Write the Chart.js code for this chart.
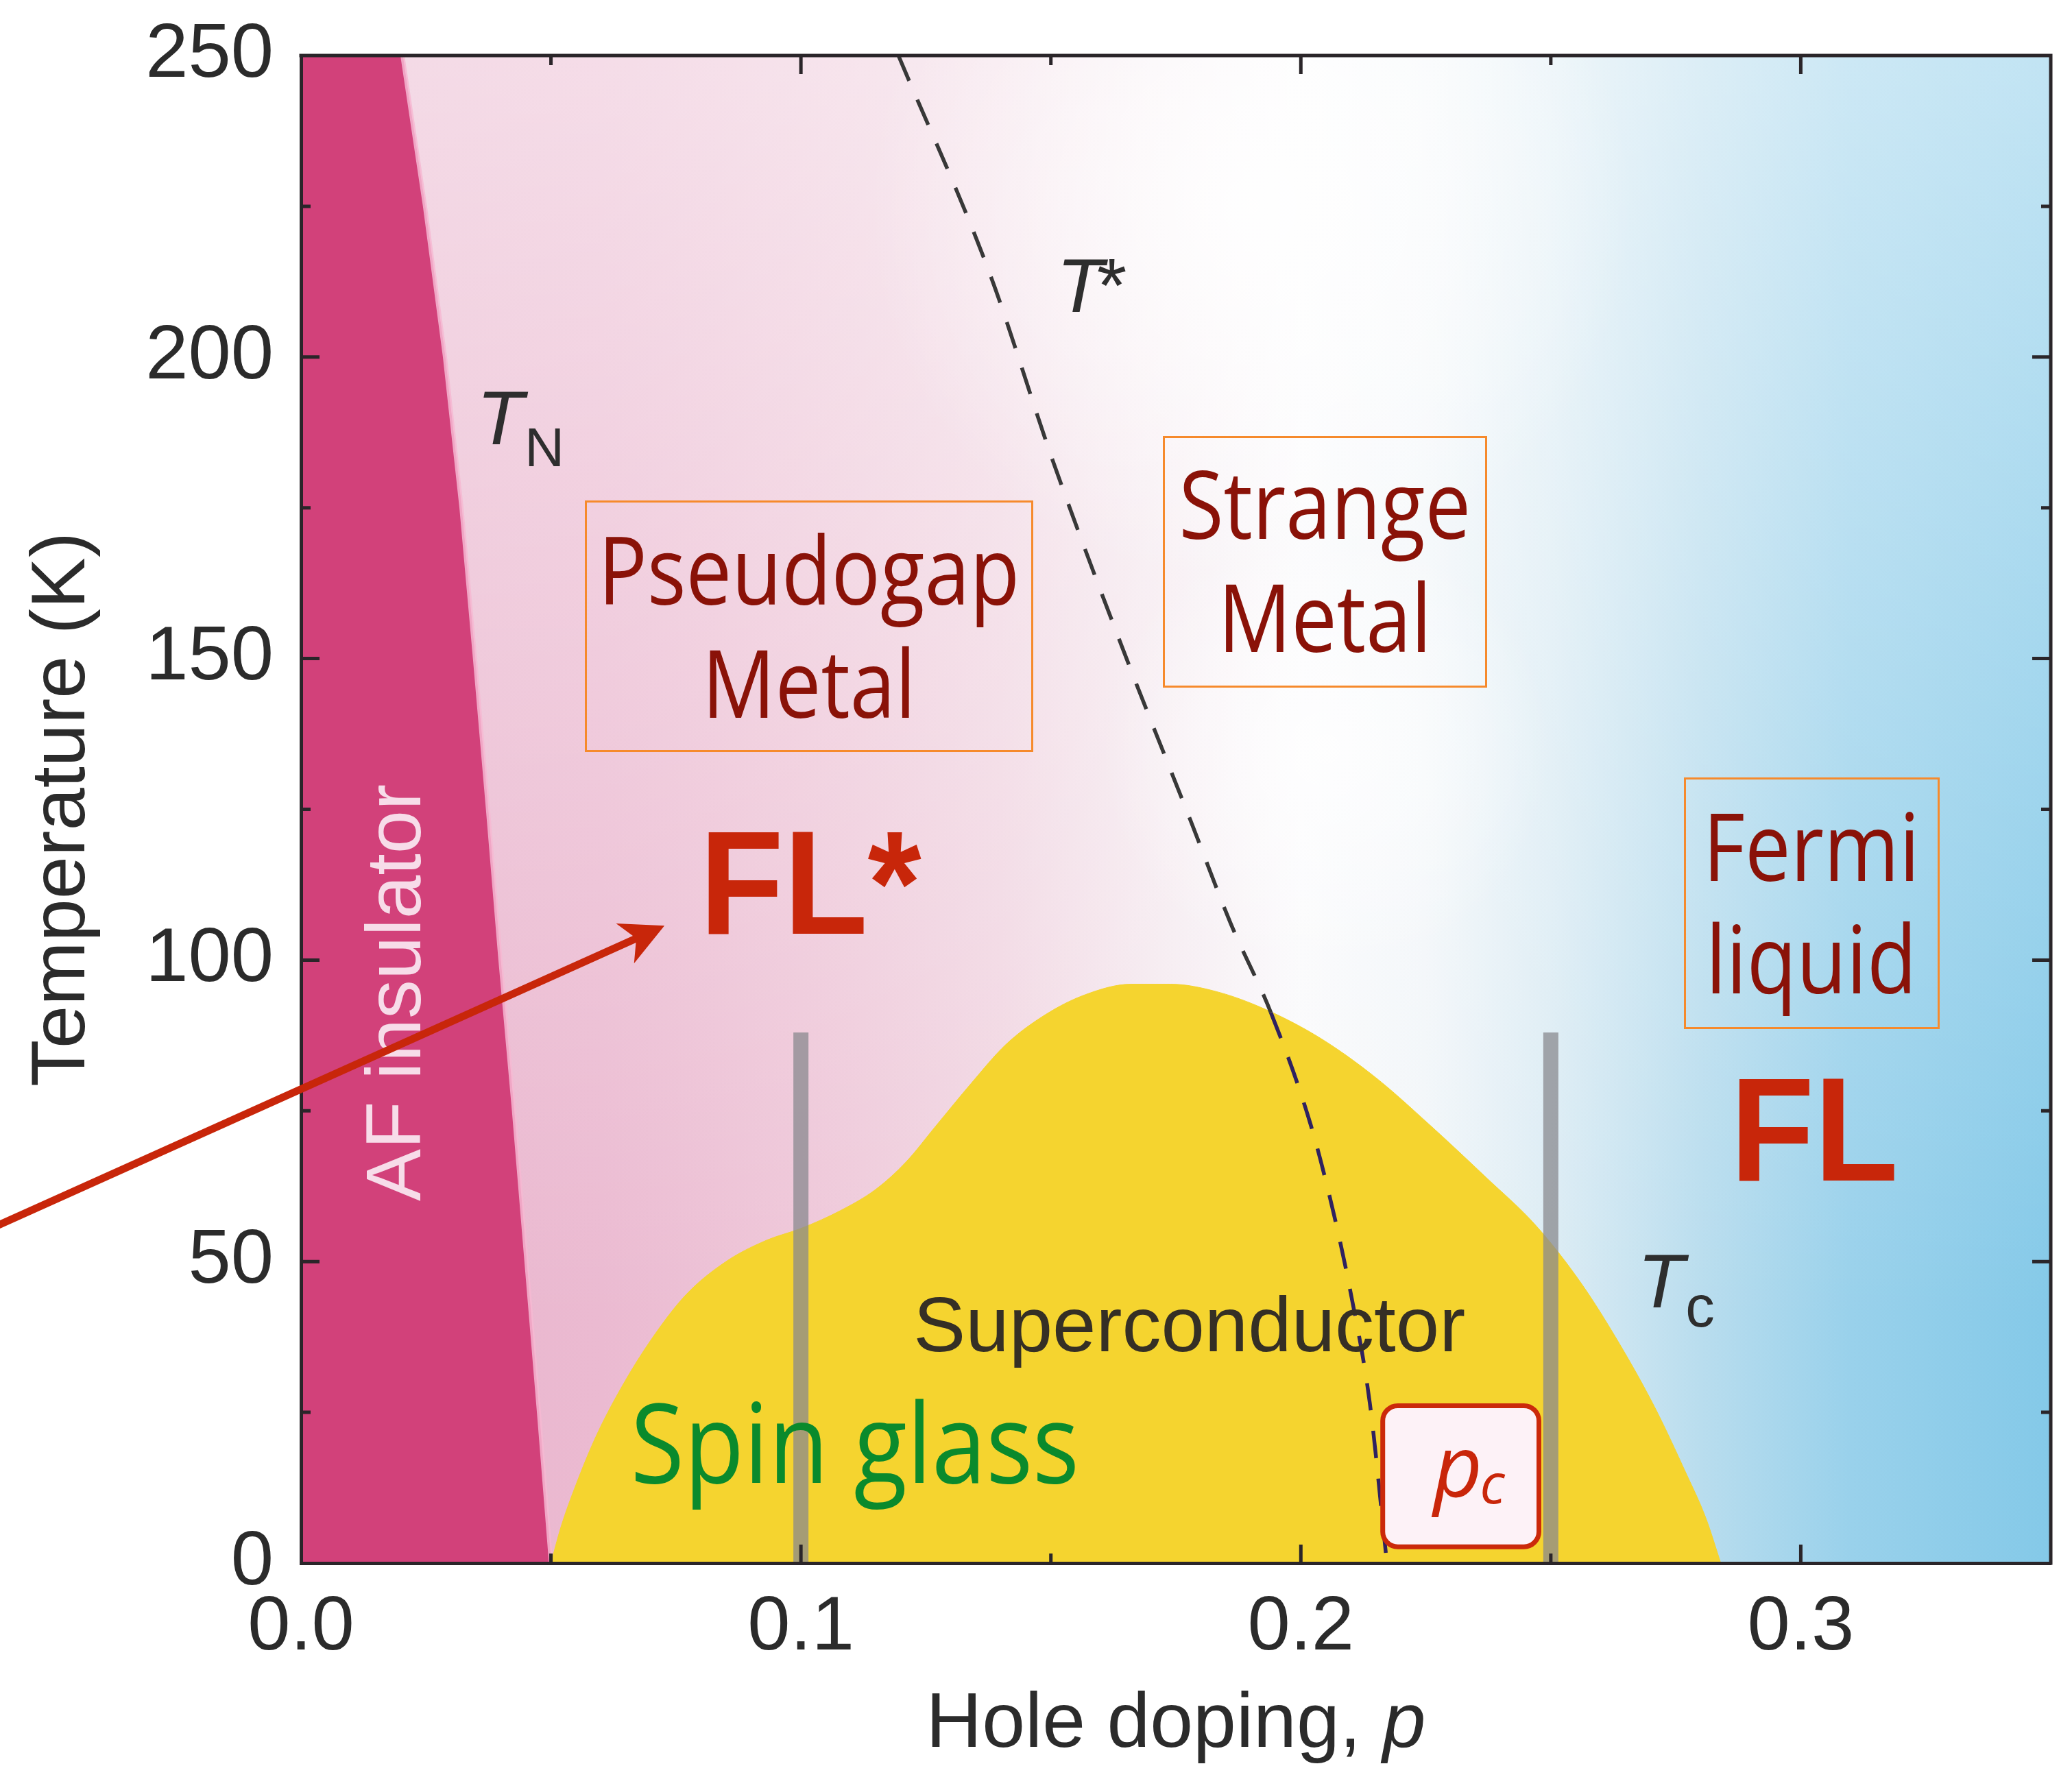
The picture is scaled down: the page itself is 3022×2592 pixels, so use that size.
<!DOCTYPE html>
<html>
<head>
<meta charset="utf-8">
<title>Cuprate phase diagram</title>
<script src="https://cdn.jsdelivr.net/npm/chart.js@4.4.1/dist/chart.umd.min.js"></script>
<style>
  html, body { margin: 0; padding: 0; background: #ffffff; }
  canvas { display: block; }
</style>
</head>
<body>
<canvas id="phase" width="3022" height="2592"></canvas>
<script>
// Néel line T_N(p): edge of the antiferromagnetic insulator
const tnDoping = [0.0203, 0.0248, 0.0288, 0.0321, 0.0348, 0.0374, 0.0399, 0.0426, 0.0451, 0.0476, 0.0500];
const tnTemp   = [250, 225, 200, 175, 150, 125, 100, 75, 50, 25, 0];

// superconducting dome T_c(p)
const tcDoping = [0.0500, 0.0520, 0.0550, 0.0590, 0.0640, 0.0700, 0.0770, 0.0850, 0.0930, 0.1000, 0.1080,
                  0.1150, 0.1210, 0.1270, 0.1340, 0.1410, 0.1490, 0.1570, 0.1660, 0.1740, 0.1830, 0.1930,
                  0.2040, 0.2150, 0.2260, 0.2370, 0.2470, 0.2560, 0.2640, 0.2710, 0.2770, 0.2810, 0.2840];
const tcTemp   = [0, 6, 13, 21, 29, 37, 44.5, 50, 53.5, 55.5, 58.5,
                  62, 66.5, 72.5, 79.5, 86, 91, 94.3, 96, 96, 94.8, 91.8,
                  87, 80.5, 72.5, 64, 56, 46.5, 36, 25.5, 15, 7.5, 0];

// pseudogap crossover T*(p)
const tStarDoping = [0.1195, 0.1377, 0.1503, 0.1642, 0.1780, 0.1860, 0.1940, 0.2020, 0.2067, 0.2099, 0.2138, 0.2170];
const tStarTemp   = [250, 214, 183, 152, 123, 106, 91.3, 72.6, 57.5, 45.1, 26.5, 1.7];

// vertical markers at the two studied dopings
const markerDoping = [0.10, 0.25];
const markerTop = 88;

// labelled axis ticks
const xTickLabels = [0.0, 0.1, 0.2, 0.3];
const yTickLabels = [0, 50, 100, 150, 200, 250];

const P_MAX = 0.35, T_MAX = 250;

const pts = (xs, ys) => xs.map((x, i) => ({ x, y: ys[i] }));

// closed outline of the AF region: left edge, top edge, Néel line, bottom edge
const afShape = [{ x: 0, y: T_MAX }, ...pts(tnDoping, tnTemp), { x: 0, y: 0 }];

const datasets = [
  {
    label: 'AF insulator', data: afShape, showLine: true, fill: 'shape',
    backgroundColor: '#d2417a', borderColor: '#d2417a', borderWidth: 1,
    pointRadius: 0, tension: 0, order: 6
  },
  {
    label: 'T_N', data: pts(tnDoping, tnTemp), showLine: true, fill: false,
    borderColor: 'rgba(246,184,210,0.85)', borderWidth: 6,
    pointRadius: 0, tension: 0, order: 5
  },
  {
    label: 'Superconductor', data: pts(tcDoping, tcTemp), showLine: true, fill: 'origin',
    backgroundColor: '#f5d42f', borderColor: '#f5d42f', borderWidth: 1,
    pointRadius: 0, cubicInterpolationMode: 'monotone', order: 4
  },
  ...markerDoping.map(p => ({
    label: 'p = ' + p, data: [{ x: p, y: 0 }, { x: p, y: markerTop }], showLine: true, fill: false,
    borderColor: 'rgba(136,136,142,0.74)', borderWidth: 22, borderCapStyle: 'butt',
    pointRadius: 0, order: 3
  })),
  {
    label: 'T*', data: pts(tStarDoping, tStarTemp), showLine: true, fill: false,
    borderColor: '#383838', borderWidth: 5.5, borderDash: [40, 30],
    pointRadius: 0, cubicInterpolationMode: 'monotone', order: 1,
    segment: { borderColor: c => (c.p0.parsed.y < 93 ? '#2f2260' : '#383838') }
  }
];

// colour wash behind the phases, stops given in doping units
const washStops = [
  [0.000, '#e9b4cc'], [0.060, '#ebbad1'], [0.100, '#eec6d8'], [0.140, '#f1d6e2'],
  [0.170, '#f5e9ef'], [0.200, '#fafafc'], [0.225, '#f2f6f9'], [0.250, '#dcecf4'],
  [0.280, '#b9ddee'], [0.310, '#99d1eb'], [0.350, '#84c9e8']
];

const backdrop = {
  id: 'backdrop',
  beforeDatasetsDraw(chart) {
    const { ctx, chartArea: a, scales: { x, y } } = chart;
    ctx.save();
    const h = ctx.createLinearGradient(x.getPixelForValue(0), 0, x.getPixelForValue(P_MAX), 0);
    washStops.forEach(([p, c]) => h.addColorStop(p / P_MAX, c));
    ctx.fillStyle = h;
    ctx.fillRect(a.left, a.top, a.width, a.height);

    const v = ctx.createLinearGradient(0, y.getPixelForValue(T_MAX), 0, y.getPixelForValue(40));
    v.addColorStop(0, 'rgba(255,255,255,0.5)');
    v.addColorStop(1, 'rgba(255,255,255,0)');
    ctx.fillStyle = v;
    ctx.fillRect(a.left, a.top, a.width, a.height);

    // white glows around the strange-metal region
    [[0.205, 135, 330, 0.75], [0.19, 225, 560, 0.85]].forEach(([p, t, rad, al]) => {
      const cx = x.getPixelForValue(p), cy = y.getPixelForValue(t);
      const r = ctx.createRadialGradient(cx, cy, 0, cx, cy, rad);
      r.addColorStop(0, `rgba(255,255,255,${al})`);
      r.addColorStop(1, 'rgba(255,255,255,0)');
      ctx.fillStyle = r;
      ctx.fillRect(a.left, a.top, a.width, a.height);
    });
    ctx.restore();
  }
};

const SANS = '"Liberation Sans", Arial, Helvetica, sans-serif';
const HUMANIST = '"Open Sans", "Noto Sans", sans-serif';

function text(ctx, str, x, y, font, color, opts = {}) {
  ctx.save();
  ctx.font = font;
  ctx.fillStyle = color;
  ctx.textAlign = opts.align || 'left';
  ctx.textBaseline = 'alphabetic';
  ctx.translate(x, y);
  if (opts.rotate) ctx.rotate(opts.rotate);
  ctx.scale(opts.sx || 1, 1);
  ctx.fillText(str, 0, 0);
  ctx.restore();
}

// boxed phase names: [lines], centre doping, baseline temperatures, box corners (p0, T0, p1, T1)
const phaseBoxes = [
  { lines: ['Pseudogap', 'Metal'], p: 0.1016, base: [158.9, 140.2], box: [0.0569, 176.1, 0.1462, 134.7] },
  { lines: ['Strange', 'Metal'],   p: 0.2048, base: [169.9, 151.1], box: [0.1725, 186.8, 0.2370, 145.4] },
  { lines: ['Fermi', 'liquid'],    p: 0.3021, base: [113.1, 94.5],  box: [0.2768, 130.2, 0.3276, 88.8] }
];

const annotations = {
  id: 'annotations',
  afterDatasetsDraw(chart) {
    const { ctx, scales: { x, y } } = chart;
    const X = p => x.getPixelForValue(p), Y = t => y.getPixelForValue(t);

    // boxed phase names
    phaseBoxes.forEach(b => {
      ctx.save();
      ctx.strokeStyle = '#f68a2c';
      ctx.lineWidth = 3;
      const [p0, t0, p1, t1] = b.box;
      ctx.strokeRect(Math.round(X(p0)) + 0.5, Math.round(Y(t0)) + 0.5, Math.round(X(p1) - X(p0)), Math.round(Y(t1) - Y(t0)));
      ctx.restore();
      b.lines.forEach((ln, i) => text(ctx, ln, X(b.p), Y(b.base[i]), `138px ${HUMANIST}`, '#8a1208', { align: 'center', sx: 0.86 }));
    });

    // FL* and FL
    text(ctx, 'FL*', X(0.1019), Y(104.4), `bold 216px ${SANS}`, '#c8260a', { align: 'center', sx: 0.93 });
    text(ctx, 'FL', X(0.3027), Y(63.4), `bold 216px ${SANS}`, '#c8260a', { align: 'center', sx: 0.93 });

    // AF insulator, reading upwards
    text(ctx, 'AF insulator', X(0.0239), Y(94.6), `114px ${SANS}`, '#f7dce9', { align: 'center', rotate: -Math.PI / 2 });

    // Superconductor and spin glass
    text(ctx, 'Superconductor', X(0.1777), Y(35.1), `114px ${SANS}`, '#352f25', { align: 'center' });
    text(ctx, 'Spin glass', X(0.1108), Y(13.3), `162px ${HUMANIST}`, '#0a8a2c', { align: 'center', sx: 0.88 });

    // line labels T_N, T*, T_c
    const italic = `italic 112px ${SANS}`;
    let tx = X(0.0365) - 10, ty = Y(185.5);
    text(ctx, 'T', tx, ty, italic, '#2e2e2e');
    text(ctx, 'N', tx + 70, ty + 32, `80px ${SANS}`, '#2e2e2e');

    tx = X(0.1525) - 10; ty = Y(207.5);
    text(ctx, 'T', tx, ty, italic, '#2e2e2e');
    text(ctx, '*', tx + 54, ty, italic, '#2e2e2e');

    tx = X(0.2687) - 10; ty = Y(42.4);
    text(ctx, 'T', tx, ty, italic, '#2e2e2e');
    text(ctx, 'c', tx + 70, ty + 28, `85px ${SANS}`, '#2e2e2e');

    // critical doping marker box
    const bx0 = X(0.2159), by0 = Y(26.5), bx1 = X(0.2481), by1 = Y(2.3);
    ctx.save();
    ctx.beginPath();
    ctx.roundRect(bx0 + 3.5, by0 + 3.5, bx1 - bx0 - 7, by1 - by0 - 7, 22);
    ctx.fillStyle = '#fdf2f7';
    ctx.fill();
    ctx.lineWidth = 7;
    ctx.strokeStyle = '#cb2a0b';
    ctx.stroke();
    ctx.restore();
    const cx = (bx0 + bx1) / 2, cy = (by0 + by1) / 2;
    text(ctx, 'p', cx - 40, cy + 30, `italic 124px ${HUMANIST}`, '#c9260a');
    text(ctx, 'c', cx + 28, cy + 40, `italic 80px ${HUMANIST}`, '#c9260a');
  }
};

function arrow(ctx, x0, y0, x1, y1) {
  const a = Math.atan2(y1 - y0, x1 - x0);
  ctx.save();
  ctx.strokeStyle = ctx.fillStyle = '#c8260a';
  ctx.lineWidth = 11;
  ctx.beginPath();
  ctx.moveTo(x0, y0);
  ctx.lineTo(x1 - 40 * Math.cos(a), y1 - 40 * Math.sin(a));
  ctx.stroke();
  ctx.translate(x1, y1);
  ctx.rotate(a);
  ctx.beginPath();
  ctx.moveTo(0, 0);
  ctx.lineTo(-63, -32);
  ctx.lineTo(-45, 0);
  ctx.lineTo(-63, 32);
  ctx.closePath();
  ctx.fill();
  ctx.restore();
}

const frame = {
  id: 'frame',
  afterDraw(chart) {
    const { ctx, chartArea: a, scales: { x, y } } = chart;
    const ink = '#2a2529';
    ctx.save();
    ctx.strokeStyle = ink;
    ctx.lineWidth = 5;
    ctx.lineCap = 'square';
    ctx.beginPath();
    ctx.moveTo(a.left, a.top); ctx.lineTo(a.right, a.top); ctx.lineTo(a.right, a.bottom);
    ctx.stroke();

    // inward tick marks on all four sides
    ctx.lineCap = 'butt';
    ctx.lineWidth = 5;
    const near = (v, list) => list.some(t => Math.abs(t - v) < 1e-9);
    x.ticks.forEach(t => {
      if (t.value <= 1e-9 || t.value >= P_MAX - 1e-9) return;
      const px = x.getPixelForValue(t.value);
      const len = near(t.value, xTickLabels) ? 27 : 14;
      ctx.beginPath();
      ctx.moveTo(px, a.bottom); ctx.lineTo(px, a.bottom - len);
      ctx.moveTo(px, a.top); ctx.lineTo(px, a.top + len);
      ctx.stroke();
    });
    y.ticks.forEach(t => {
      if (t.value <= 1e-9 || t.value >= T_MAX - 1e-9) return;
      const py = y.getPixelForValue(t.value);
      const len = near(t.value, yTickLabels) ? 27 : 14;
      ctx.beginPath();
      ctx.moveTo(a.left, py); ctx.lineTo(a.left + len, py);
      ctx.moveTo(a.right, py); ctx.lineTo(a.right - len, py);
      ctx.stroke();
    });
    ctx.restore();

    // x-axis title with italic p
    ctx.save();
    const main = 'Hole doping, ';
    ctx.font = `113px ${SANS}`;
    const w1 = ctx.measureText(main).width;
    ctx.font = `italic 113px ${SANS}`;
    const w2 = ctx.measureText('p').width;
    ctx.restore();
    const left = (a.left + a.right) / 2 - (w1 + w2) / 2;
    const base = a.bottom + 268;
    text(ctx, main, left, base, `113px ${SANS}`, '#2b2b2b');
    text(ctx, 'p', left + w1, base, `italic 113px ${SANS}`, '#2b2b2b');

    // arrow pointing at FL*
    arrow(ctx, x.getPixelForValue(-0.062), y.getPixelForValue(55.5), x.getPixelForValue(0.0727), y.getPixelForValue(105.7));
  }
};

Chart.defaults.font.family = SANS;

new Chart(document.getElementById('phase'), {
  type: 'scatter',
  data: { datasets },
  options: {
    responsive: false,
    animation: false,
    devicePixelRatio: 1,
    events: [],
    layout: { padding: { left: 0, right: 31, top: 81, bottom: 0 } },
    plugins: { legend: { display: false }, tooltip: { enabled: false } },
    scales: {
      x: {
        type: 'linear', min: 0, max: P_MAX,
        afterFit: s => { s.height = 312; s.paddingLeft = 0; s.paddingRight = 0; },
        grid: { display: false, drawTicks: false },
        border: { display: true, color: '#2a2529', width: 5, z: 1 },
        ticks: {
          stepSize: 0.05, autoSkip: false, maxRotation: 0, padding: 28,
          color: '#2b2b2b', font: { size: 112, family: SANS },
          callback: v => {
            const hit = xTickLabels.find(t => Math.abs(t - v) < 1e-9);
            return hit === undefined ? '' : hit.toFixed(1);
          }
        },
        title: { display: false }
      },
      y: {
        type: 'linear', min: 0, max: T_MAX,
        afterFit: s => { s.width = 439; s.paddingTop = 0; s.paddingBottom = 0; },
        grid: { display: false, drawTicks: false },
        border: { display: true, color: '#2a2529', width: 5, z: 1 },
        ticks: {
          stepSize: 25, autoSkip: false, padding: 40,
          color: '#2b2b2b', font: { size: 112, family: SANS },
          callback: v => (yTickLabels.includes(v) ? String(v) : '')
        },
        title: {
          display: true, text: 'Temperature (K)', color: '#2b2b2b',
          font: { size: 112, family: SANS }, padding: { top: 25, bottom: 0 }
        }
      }
    }
  },
  plugins: [backdrop, annotations, frame]
});
</script>
</body>
</html>
